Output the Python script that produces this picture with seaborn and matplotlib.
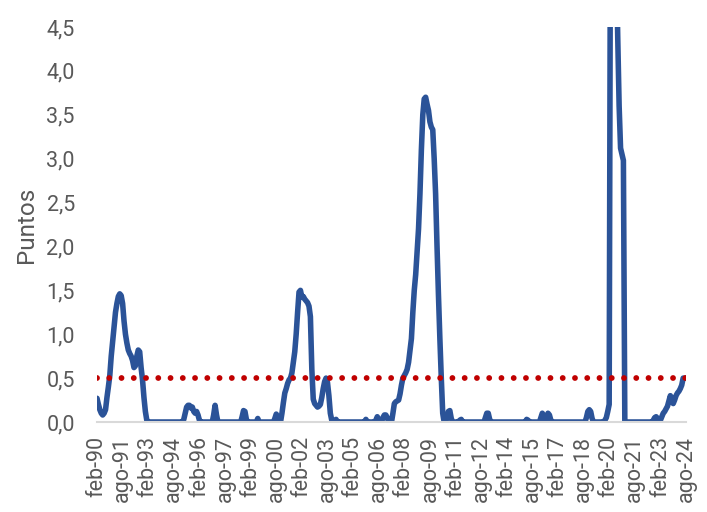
import matplotlib
matplotlib.use("Agg")
import matplotlib.pyplot as plt
import seaborn as sns
import pandas as pd
import numpy as np

# Monthly indicator, feb-1990 .. ago-2024 (415 months)
puntos = [
    # 0-35
    0.27, 0.20, 0.14, 0.10, 0.08, 0.10, 0.14, 0.28, 0.40, 0.53, 0.75, 0.92,
    1.10, 1.25, 1.35, 1.43, 1.46, 1.44, 1.35, 1.15, 1.00, 0.90, 0.82, 0.78,
    0.75, 0.70, 0.62, 0.64, 0.75, 0.82, 0.80, 0.62, 0.48, 0.28, 0.12, 0.02,
    # 36-71
    0, 0, 0, 0, 0, 0, 0, 0, 0, 0, 0, 0,
    0, 0, 0, 0, 0, 0, 0, 0, 0, 0, 0, 0,
    0, 0.03, 0.10, 0.17, 0.19, 0.19, 0.16, 0.17, 0.12, 0.10, 0.12, 0.08,
    # 72-107
    0.02, 0, 0, 0, 0, 0, 0, 0, 0, 0, 0.08, 0.19,
    0.08, 0, 0, 0, 0, 0, 0, 0, 0, 0, 0, 0,
    0, 0, 0, 0, 0, 0, 0.06, 0.13, 0.12, 0.03, 0, 0,
    # 108-143
    0, 0, 0, 0, 0, 0.04, 0, 0, 0, 0, 0, 0,
    0, 0, 0, 0, 0, 0.04, 0.09, 0.04, 0, 0, 0.10, 0.22,
    0.33, 0.38, 0.44, 0.48, 0.50, 0.56, 0.68, 0.80, 1.00, 1.25, 1.48, 1.50,
    # 144-179
    1.42, 1.43, 1.40, 1.38, 1.36, 1.32, 1.20, 0.60, 0.26, 0.21, 0.19, 0.17,
    0.18, 0.20, 0.28, 0.38, 0.46, 0.50, 0.45, 0.30, 0.10, 0.02, 0, 0,
    0.03, 0, 0, 0, 0, 0, 0, 0, 0, 0, 0, 0,
    # 180-215
    0, 0, 0, 0, 0, 0, 0, 0, 0, 0.03, 0, 0,
    0, 0, 0, 0, 0.02, 0.06, 0.02, 0, 0, 0.05, 0.08, 0.08,
    0.05, 0, 0, 0, 0.10, 0.21, 0.23, 0.24, 0.25, 0.32, 0.42, 0.50,
    # 216-251
    0.53, 0.56, 0.60, 0.68, 0.82, 0.95, 1.25, 1.50, 1.68, 1.95, 2.20, 2.60,
    3.10, 3.50, 3.68, 3.70, 3.62, 3.55, 3.42, 3.36, 3.33, 3.00, 2.60, 2.00,
    1.45, 0.95, 0.50, 0.10, 0, 0, 0.05, 0.12, 0.13, 0.04, 0, 0,
    # 252-287
    0, 0, 0, 0.02, 0.03, 0, 0, 0, 0, 0, 0, 0,
    0, 0, 0, 0, 0, 0, 0, 0, 0, 0.05, 0.10, 0.10,
    0.03, 0, 0, 0, 0, 0, 0, 0, 0, 0, 0, 0,
    # 288-323
    0, 0, 0, 0, 0, 0, 0, 0, 0, 0, 0, 0,
    0, 0, 0.03, 0.02, 0, 0, 0, 0, 0, 0, 0, 0,
    0.05, 0.10, 0.06, 0.02, 0.05, 0.10, 0.08, 0.02, 0, 0, 0, 0,
    # 324-359
    0, 0, 0, 0, 0, 0, 0, 0, 0, 0, 0, 0,
    0, 0, 0, 0, 0, 0, 0, 0, 0.05, 0.12, 0.14, 0.12,
    0.04, 0, 0, 0, 0, 0, 0, 0, 0, 0.02, 0.05, 0.12,
    # 360-395
    0.20, 6.50, 9.00, 8.00, 6.50, 5.30, 4.40, 3.60, 3.12, 3.05, 2.98, 0,
    0, 0, 0, 0, 0, 0, 0, 0, 0, 0, 0, 0,
    0, 0, 0, 0, 0, 0, 0, 0.02, 0.05, 0.06, 0.04, 0.02,
    # 396-414
    0.02, 0.06, 0.10, 0.12, 0.15, 0.18, 0.24, 0.30, 0.24, 0.21, 0.25, 0.30,
    0.33, 0.35, 0.38, 0.42, 0.50, 0.50, 0.50,
]
umbral = 0.5

etiquetas_x = ["feb-90", "ago-91", "feb-93", "ago-94", "feb-96", "ago-97",
               "feb-99", "ago-00", "feb-02", "ago-03", "feb-05", "ago-06",
               "feb-08", "ago-09", "feb-11", "ago-12", "feb-14", "ago-15",
               "feb-17", "ago-18", "feb-20", "ago-21", "feb-23", "ago-24"]
valores_y = [0.0, 0.5, 1.0, 1.5, 2.0, 2.5, 3.0, 3.5, 4.0, 4.5]

assert len(puntos) == 415, len(puntos)

mes = np.arange(len(puntos))
df = pd.DataFrame({"mes": mes, "puntos": puntos, "umbral": umbral})

sns.set_theme(style="white")
plt.rcParams["font.family"] = ["Roboto", "DejaVu Sans"]

fig = plt.figure(figsize=(7.07, 5.12), dpi=100)
ax = fig.add_axes([97 / 707, 1 - 422 / 512, (686 - 97) / 707, (422 - 27) / 512])

sns.lineplot(data=df, x="mes", y="puntos", ax=ax, color="#2B5398",
             linewidth=4.0, solid_joinstyle="round", solid_capstyle="round",
             zorder=2)
sns.lineplot(data=df, x="mes", y="umbral", ax=ax, color="#C00000",
             linewidth=4.2, linestyle=(0, (0.001, 2.1)),
             dash_capstyle="round", zorder=3)

ax.set_xlim(0, len(puntos) - 1)
ax.set_ylim(0, 4.5)
ax.set_xticks(np.arange(0, len(puntos), 18))
ax.set_xticklabels(etiquetas_x, rotation=90)
ax.set_yticks(valores_y)
ax.set_yticklabels([f"{v:.1f}".replace(".", ",") for v in valores_y])
ax.tick_params(axis="both", length=0, labelsize=15.5, colors="#595959")
ax.tick_params(axis="y", pad=16)
ax.tick_params(axis="x", pad=10)
ax.set_xlabel("")
ax.set_ylabel("Puntos", fontsize=17.5, color="#595959", labelpad=6)

for s in ["top", "right", "left"]:
    ax.spines[s].set_visible(False)
ax.spines["bottom"].set_color("#D9D9D9")
ax.spines["bottom"].set_linewidth(1.5)
ax.grid(False)

fig.savefig("out.png", dpi=100)
